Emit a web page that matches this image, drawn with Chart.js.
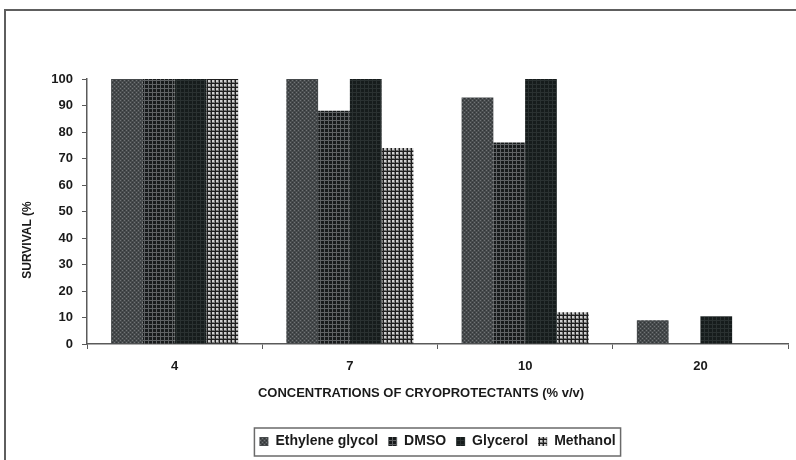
<!DOCTYPE html>
<html>
<head>
<meta charset="utf-8">
<script src="https://cdn.jsdelivr.net/npm/chart.js@4.4.1/dist/chart.umd.min.js"></script>
<style>
  html, body { margin: 0; padding: 0; background: #fff; }
  #wrap { position: relative; width: 796px; height: 460px; overflow: hidden; }
  #frame { position: absolute; left: 4px; top: 9px; width: 820px; height: 480px;
           border-top: 2px solid #5e5e5e; border-left: 2px solid #5e5e5e; pointer-events: none; }
  canvas { position: absolute; left: 0; top: 0; }
</style>
</head>
<body>
<div id="wrap">
  <canvas id="c" width="796" height="460"></canvas>
  <div id="frame"></div>
</div>
<script>
// ---- data ----
const categories = ['4', '7', '10', '20'];
const seriesNames = ['Ethylene glycol', 'DMSO', 'Glycerol', 'Methanol'];
const ethyleneGlycol = [100, 100, 93, 9];
const dmso = [100, 88, 76, 0];
const glycerol = [100, 100, 100, 10.5];
const methanol = [100, 74, 12, 0];
const yTicks = [0, 10, 20, 30, 40, 50, 60, 70, 80, 90, 100];
const yTitle = 'SURVIVAL (%';
const xTitle = 'CONCENTRATIONS OF CRYOPROTECTANTS (% v/v)';

// ---- patterns ----
function makePattern(size, draw) {
  const cv = document.createElement('canvas');
  cv.width = size; cv.height = size;
  const g = cv.getContext('2d');
  draw(g);
  return g.createPattern(cv, 'repeat');
}
const patEG = makePattern(4, g => {
  g.fillStyle = '#464a4c'; g.fillRect(0, 0, 4, 4);
  g.fillStyle = '#717476'; g.fillRect(0, 0, 1, 1); g.fillRect(2, 2, 1, 1);
  g.fillStyle = '#323537'; g.fillRect(2, 0, 1, 1); g.fillRect(0, 2, 1, 1);
});
const patDMSO = makePattern(4, g => {
  g.fillStyle = '#171a1b'; g.fillRect(0, 0, 4, 4);
  g.fillStyle = '#5f6264'; g.fillRect(0, 0, 4, 1); g.fillRect(0, 0, 1, 4);
});
const patGly = makePattern(4, g => {
  g.fillStyle = '#161c1c'; g.fillRect(0, 0, 4, 4);
  g.fillStyle = '#2a3131'; g.fillRect(0, 0, 4, 1); g.fillRect(0, 0, 1, 4);
});
const patMeth = makePattern(4, g => {
  g.fillStyle = '#cfcfcf'; g.fillRect(0, 0, 4, 4);
  g.fillStyle = '#1e1e1e'; g.fillRect(0, 3, 4, 1); g.fillRect(3, 0, 1, 4);
  g.fillStyle = '#7a7a7a'; g.fillRect(0, 2, 3, 1); g.fillRect(2, 0, 1, 2);
});

const seriesValues = [ethyleneGlycol, dmso, glycerol, methanol];
const seriesFills = [patEG, patDMSO, patGly, patMeth];

const textColor = '#1a1a1a';
const axisColor = '#5a5a5a';

const customPlugin = {
  id: 'custom',
  afterLayout(chart) {
    const lg = chart.legend, ca = chart.chartArea;
    if (!lg) return;
    const dx = (ca.left + ca.right) / 2 - (lg.left + lg.right) / 2;
    lg.left += dx; lg.right += dx;
  },
  afterDraw(chart) {
    const c = chart.ctx;
    c.save();
    // legend frame
    const hb = chart.legend.legendHitBoxes;
    if (hb && hb.length) {
      const x0 = hb[0].left - 5;
      const last = hb[hb.length - 1];
      const x1 = last.left + last.width + 5;
      c.strokeStyle = '#6a6a6a';
      c.lineWidth = 1.5;
      c.strokeRect(x0, 428, x1 - x0, 28);
    }
    // axis titles
    c.fillStyle = textColor;
    c.font = 'bold 13px "Liberation Sans", Arial, sans-serif';
    c.textAlign = 'center';
    c.textBaseline = 'middle';
    c.fillText(xTitle, 421, 393);
    c.translate(28, 240);
    c.rotate(-Math.PI / 2);
    c.font = 'bold 12px "Liberation Sans", Arial, sans-serif';
    c.fillText(yTitle, 0, 0);
    c.restore();
  }
};

new Chart(document.getElementById('c'), {
  type: 'bar',
  data: {
    labels: categories,
    datasets: seriesNames.map((n, i) => ({
      label: n,
      data: seriesValues[i],
      backgroundColor: seriesFills[i],
      borderWidth: 0,
      categoryPercentage: 0.725,
      barPercentage: 1.0
    }))
  },
  options: {
    responsive: false,
    animation: false,
    devicePixelRatio: 1,
    layout: { padding: { left: 10, right: 8, top: 79, bottom: 1.5 } },
    plugins: {
      tooltip: { enabled: false },
      title: { display: false },
      legend: {
        display: true,
        position: 'bottom',
        labels: {
          boxWidth: 9, boxHeight: 9, padding: 10,
          color: textColor,
          font: { family: '"Liberation Sans", Arial, sans-serif', size: 14, weight: 'bold' }
        }
      }
    },
    scales: {
      x: {
        grid: { display: true, drawOnChartArea: false, drawTicks: true, tickLength: 5, color: axisColor, offset: true },
        border: { display: true, color: axisColor, width: 1.5 },
        ticks: {
          color: textColor, padding: 10,
          font: { family: '"Liberation Sans", Arial, sans-serif', size: 13, weight: 'bold' }
        },
        afterFit(s) { s.height = 80.5; }
      },
      y: {
        min: 0, max: 100,
        afterBuildTicks(s) { s.ticks = yTicks.map(v => ({ value: v })); },
        grid: { display: true, drawOnChartArea: false, drawTicks: true, tickLength: 5, color: axisColor },
        border: { display: true, color: axisColor, width: 1.5 },
        ticks: {
          color: textColor, padding: 9,
          font: { family: '"Liberation Sans", Arial, sans-serif', size: 13, weight: 'bold' }
        },
        afterFit(s) { s.width = 77; }
      }
    }
  },
  plugins: [customPlugin]
});
</script>
</body>
</html>
